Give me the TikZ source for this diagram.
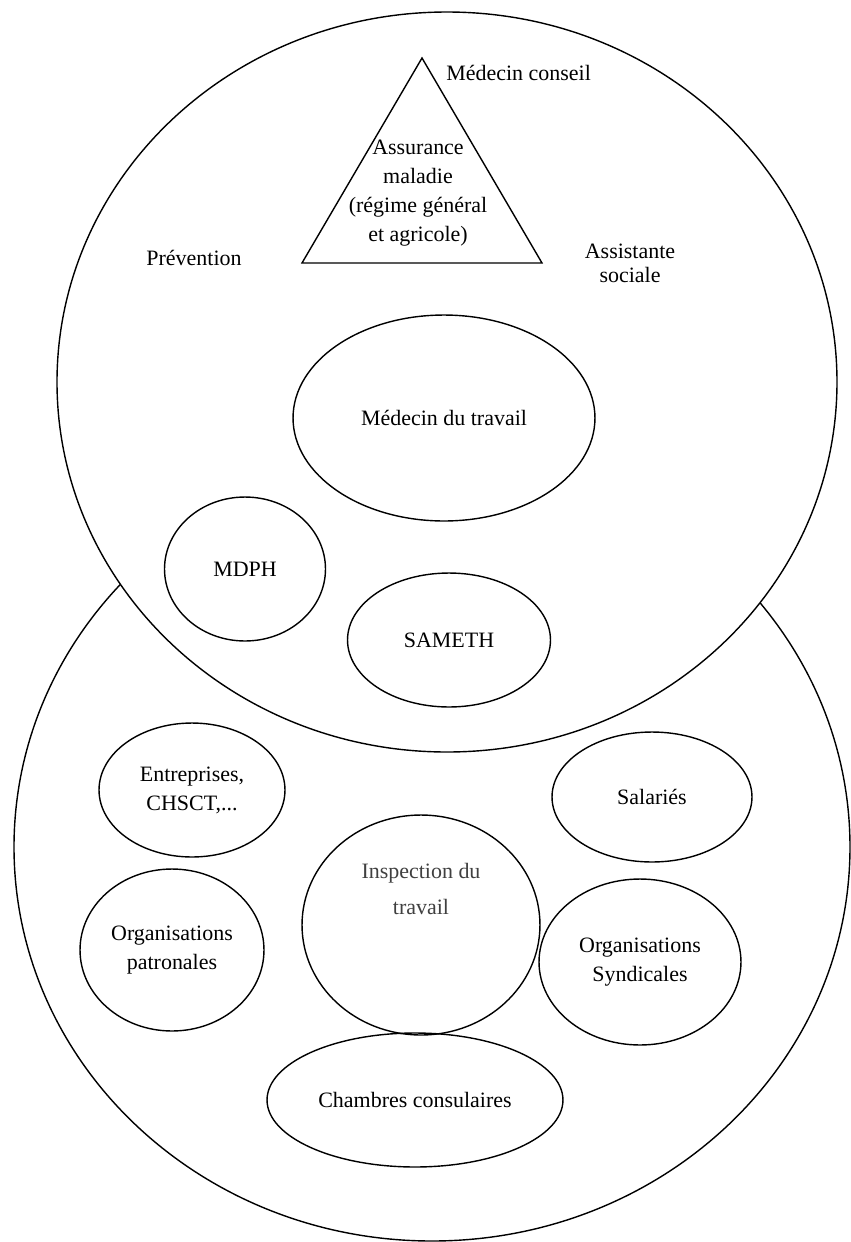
\documentclass[tikz,border=0pt]{standalone}
\usepackage{fontspec}
\setmainfont{Liberation Serif}
\usetikzlibrary{shapes.geometric}

\begin{document}
\begin{tikzpicture}[x=0.02cm,y=-0.02cm,
	bulle/.style={draw,ellipse,inner sep=0pt,align=center,line width=0.8pt,font=\fontsize{12.5}{16.5}\selectfont},
	texte/.style={inner sep=0pt,align=center,font=\fontsize{12.5}{16.5}\selectfont}]
	\useasboundingbox (0,0) rectangle (850,1242);
	% les deux grands cercles
	\draw [line width=0.8pt] (432,847) ellipse (418 and 394);
	\draw [line width=0.8pt,fill=white] (447,382) ellipse (390 and 370);
	% triangle
	\coordinate (sommet) at (422,58);
	\coordinate (baseG) at (302,263);
	\coordinate (baseD) at (542,263);
	\draw [line width=0.8pt,line join=miter] (sommet) -- (baseG) -- (baseD) -- cycle;
	\node [texte] (assurance) at (418,193) {Assurance\\maladie\\(régime général\\et agricole)};
	\node [texte,anchor=west] (conseil) at (446,73) {Médecin conseil};
	\node [texte] (prevention) at (194,258) {Prévention};
	\node [texte,font=\fontsize{12.5}{13.5}\selectfont] (assistante) at (630,263) {Assistante\\sociale};
	% partie haute
	\node [bulle,minimum width=6.04cm,minimum height=4.12cm] (medecin) at (444,418) {Médecin du travail};
	\node [bulle,minimum width=3.22cm,minimum height=2.88cm] (mdph) at (245,569) {MDPH};
	\node [bulle,minimum width=4.06cm,minimum height=2.68cm] (sameth) at (449,640) {SAMETH};
	% partie basse
	\node [bulle,minimum width=3.72cm,minimum height=2.68cm] (entreprises) at (192,790) {Entreprises,\\CHSCT,...};
	\node [bulle,minimum width=4.0cm,minimum height=2.6cm] (salaries) at (652,797) {Salariés};
	\node [bulle,minimum width=4.76cm,minimum height=4.4cm] (inspection) at (421,925) {};
	\node [texte,text=black!75,font=\fontsize{12.5}{21}\selectfont] (inspectionTxt) at (421,889) {Inspection du\\travail};
	\node [bulle,minimum width=3.68cm,minimum height=3.24cm] (patronales) at (172,950) {Organisations\\patronales};
	\node [bulle,minimum width=4.04cm,minimum height=3.32cm] (syndicales) at (640,962) {Organisations\\Syndicales};
	\node [bulle,minimum width=5.92cm,minimum height=2.68cm] (chambres) at (415,1100) {Chambres consulaires};
\end{tikzpicture}
\end{document}
